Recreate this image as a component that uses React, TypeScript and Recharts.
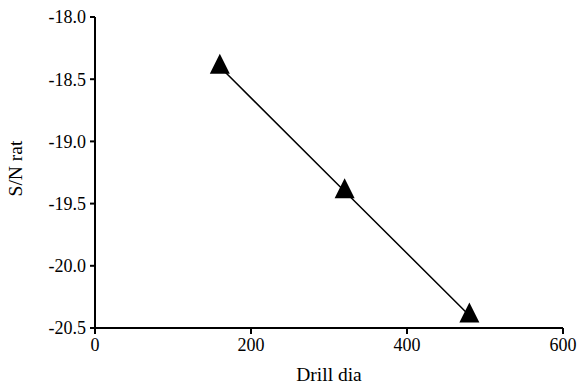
import React from 'react';
import { LineChart, Line, XAxis, YAxis } from 'recharts';

const drillDia = [160, 320, 480];
const snRatio = [-18.4, -19.4, -20.4];
const xTicks = [0, 200, 400, 600];
const yTicks = [-20.5, -20.0, -19.5, -19.0, -18.5, -18.0];

const data = drillDia.map((d, i) => ({ dia: d, sn: snRatio[i] }));

const font = { fontFamily: '"Liberation Serif", "Times New Roman", serif', fontSize: 18, fill: '#000' };
const titleFont = { ...font, fontSize: 19.5 };

// filled triangle marker, centred on its centroid
const Triangle = (props: any) => {
  const { cx, cy } = props;
  if (cx == null || cy == null) return null;
  return <path d={`M${cx},${cy - 13} L${cx + 10},${cy + 7} L${cx - 10},${cy + 7} Z`} fill="#000" />;
};

const App: React.FC = () => {
  return (
    <div style={{ position: 'absolute', left: 0, top: 0, background: '#fff' }}>
      <LineChart width={579} height={384} data={data} margin={{ top: 17, right: 16, bottom: 0, left: 0 }}>
        <XAxis
          dataKey="dia"
          type="number"
          domain={[0, 600]}
          ticks={xTicks}
          axisLine={{ stroke: '#000', strokeWidth: 2 }}
          tickLine={{ stroke: '#000', strokeWidth: 2 }}
          tickSize={6}
          tickMargin={4}
          tick={font}
          height={56}
          label={{ value: 'Drill dia', position: 'insideBottom', offset: 3, style: titleFont }}
        />
        <YAxis
          type="number"
          domain={[-20.5, -18]}
          ticks={yTicks}
          tickFormatter={(v: number) => v.toFixed(1)}
          axisLine={{ stroke: '#000', strokeWidth: 2 }}
          tickLine={{ stroke: '#000', strokeWidth: 2 }}
          tickSize={5}
          tickMargin={4}
          tick={font}
          width={95}
          label={{ value: 'S/N rat', angle: -90, position: 'insideLeft', offset: 15, dy: -4, style: { ...titleFont, textAnchor: 'middle' } }}
        />
        <Line
          dataKey="sn"
          stroke="#000"
          strokeWidth={1.5}
          dot={<Triangle />}
          activeDot={false}
          isAnimationActive={false}
        />
      </LineChart>
    </div>
  );
};

export default App;
